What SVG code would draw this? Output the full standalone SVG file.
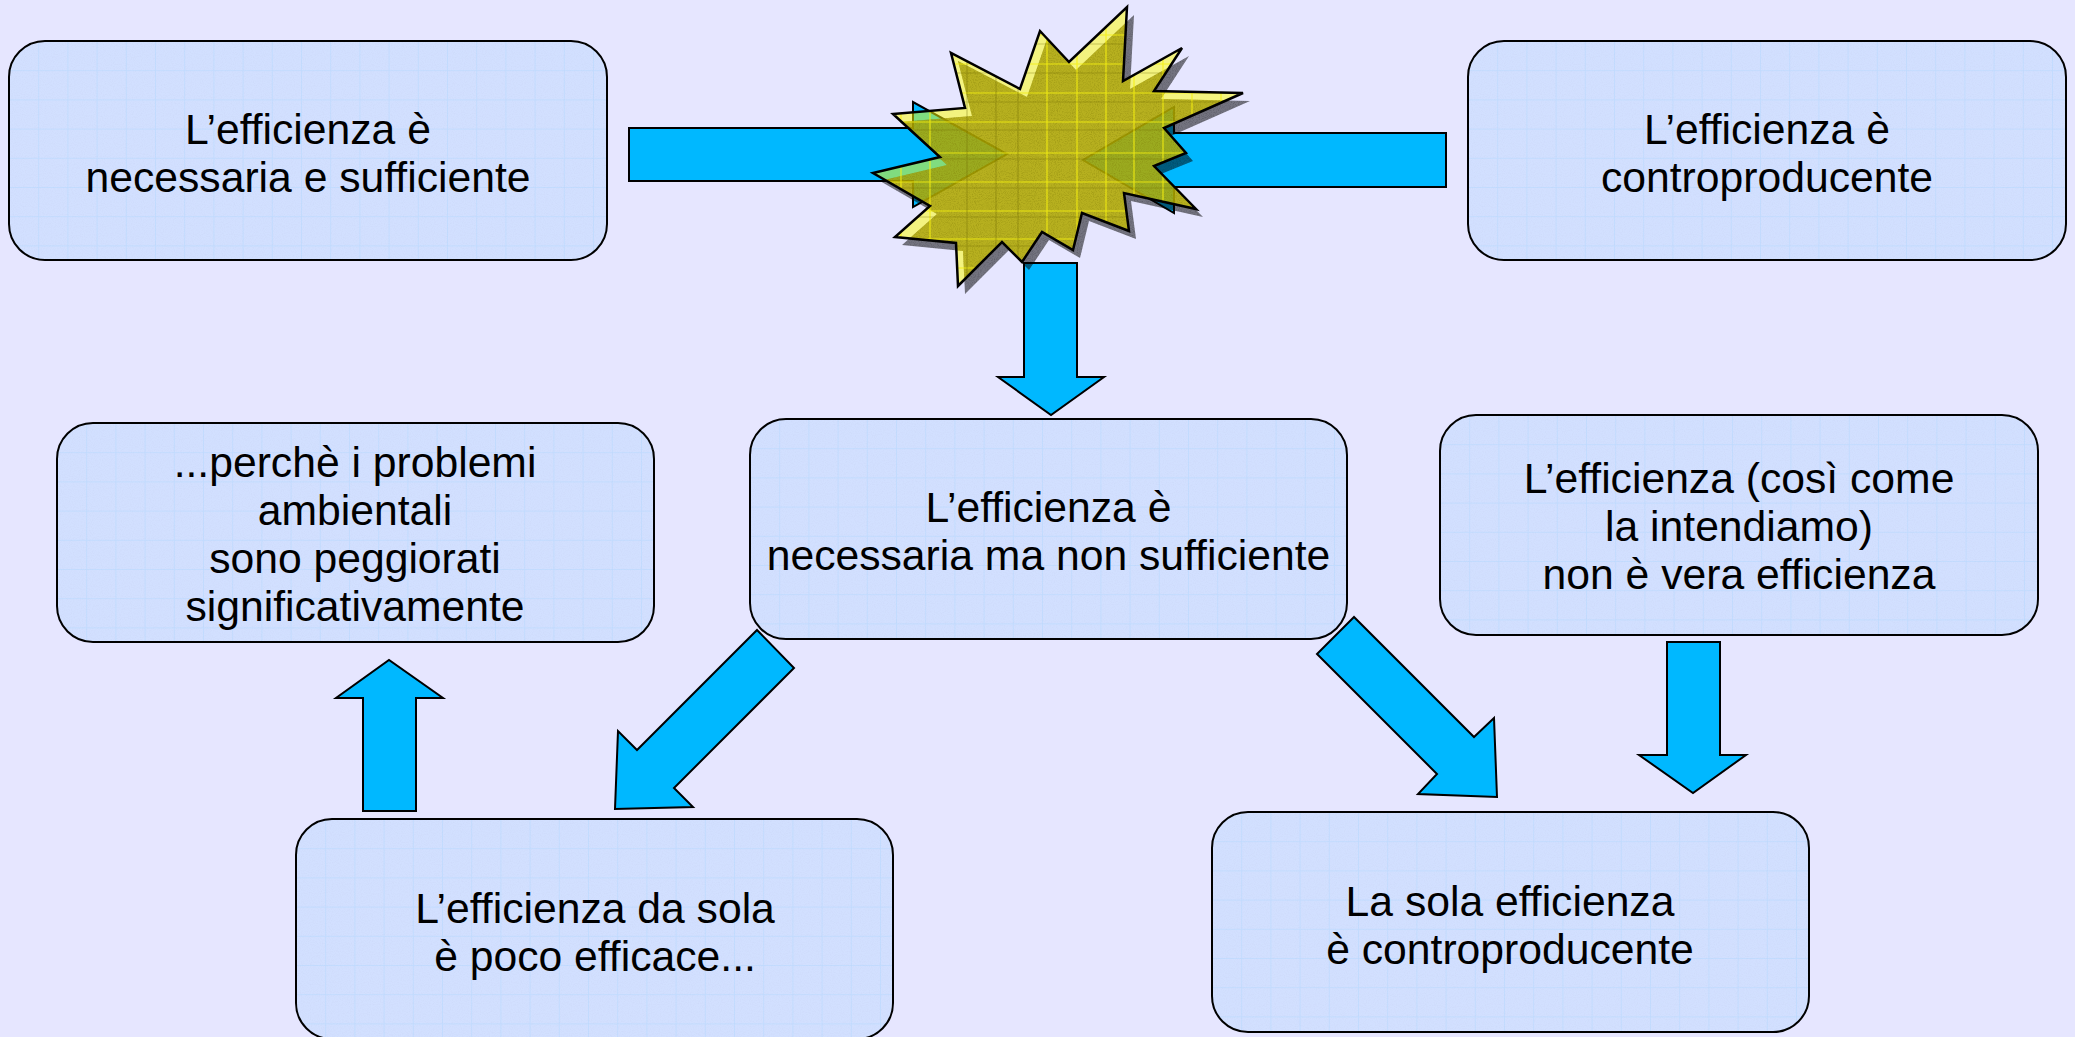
<svg xmlns="http://www.w3.org/2000/svg" width="2075" height="1037" viewBox="0 0 2075 1037">
<style>
.fill{fill:url(#boxgrid);filter:url(#finegrain)}
.line{fill:none;stroke:#000;stroke-width:2}
.arrow{fill:#00b8ff;stroke:#000;stroke-width:2;stroke-linejoin:miter}
text{font-family:"Liberation Sans",Arial,sans-serif;font-size:42.67px;fill:#000;text-anchor:middle}
</style>
<defs>
<pattern id="boxgrid" patternUnits="userSpaceOnUse" x="0" y="0" width="29.2" height="29.2">
<rect width="29.2" height="29.2" fill="#d2e0ff"/>
<path d="M0 0H29.2M0 0V29.2" stroke="#bfdbff" stroke-width="1.5" fill="none"/>
</pattern>
<filter id="finegrain" x="0" y="0" width="100%" height="100%">
<feTurbulence type="fractalNoise" baseFrequency="0.9" numOctaves="2" seed="3" result="n"/>
<feColorMatrix in="n" type="matrix" values="0 0 0 0 0.5  0 0 0 0 0.55  0 0 0 0 0.8  0 0 0 0.4 -0.16" result="a"/>
<feComposite in="a" in2="SourceGraphic" operator="atop"/>
</filter>
<filter id="grain" x="0" y="0" width="100%" height="100%">
<feTurbulence type="fractalNoise" baseFrequency="0.95" numOctaves="2" seed="7" result="n"/>
<feColorMatrix in="n" type="matrix" values="0 0 0 0 0  0 0 0 0 0  0 0 0 0 0  0 0 0 0.8 -0.34" result="a"/>
<feComposite in="a" in2="SourceAlpha" operator="in" result="b"/>
<feMerge><feMergeNode in="SourceGraphic"/><feMergeNode in="b"/></feMerge>
</filter>
<path id="starshape" d="M1127 7L1123 81L1182 48L1154 91L1243 93L1164 128L1186 153L1154 166L1196 209L1124 193L1129 231L1082 213L1073 250L1042 232L1022 262L1002 242L958 286L956 243L895 237L930 206L873 173L940 157L893 114L965 108L951 53L1020 89L1040 31L1069 62Z"/>
<clipPath id="starclip"><use href="#starshape"/></clipPath>
</defs>
<rect width="2075" height="1037" fill="#e6e6ff"/>
<g id="connectors">
<path class="arrow" d="M629 128H913V102L1007 154L913 207V181H629Z"/>
<path class="arrow" d="M1446 133H1174V107L1083 160L1174 213V187H1446Z"/>
<path class="arrow" d="M1024 263H1077V377H1104L1051 415L998 377H1024Z"/>
<path class="arrow" d="M757 630L794 668L674 788L693 807L615 809L618 731L637 750Z"/>
<path class="arrow" d="M1354 617L1317 654L1437 774L1418 794L1497 797L1494 718L1474 737Z"/>
<path class="arrow" d="M363 811V698H336L389 660L443 698H416V811Z"/>
<path class="arrow" d="M1667 642H1720V755H1746L1693 793L1639 755H1667Z"/>
</g>
<g id="burst">
<use href="#starshape" transform="translate(7 8)" fill="#000" fill-opacity=".5" filter="url(#grain)"/>
<use href="#starshape" fill="#ffff00" fill-opacity=".5"/>
<g clip-path="url(#starclip)">
<use href="#starshape" transform="translate(7 8)" fill="#b5a800" fill-opacity=".5" filter="url(#grain)"/>
<path d="M901 0V300M930 0V300M1047 0V300M1077 0V300M1106 0V300M1134 0V300M1163 0V300M1192 0V300M1221 0V300M0 35H1300M0 64H1300M0 93H1300M0 122H1300M0 153H1300M0 182H1300M0 211H1300M0 239H1300M0 268H1300" stroke="#f4f010" stroke-width="1.2" stroke-opacity=".85" fill="none"/>
<path d="M967 0V300M996 0V300M1018 0V300M0 44H1300M0 73H1300M0 102H1300M0 130H1300M0 159H1300M0 188H1300M0 217H1300M0 246H1300" stroke="#6e6600" stroke-width="1.2" stroke-opacity=".35" fill="none"/>
</g>
<use href="#starshape" fill="none" stroke="#000" stroke-width="2.500"/>
</g>
<g id="n1"><g transform="translate(9 41)"><rect class="fill" width="598" height="219" rx="36"/><rect class="line" width="598" height="219" rx="36"/></g><text x="308" y="144">L’efficienza è</text><text x="308" y="192">necessaria e sufficiente</text></g>
<g id="n2"><g transform="translate(1468 41)"><rect class="fill" width="598" height="219" rx="36"/><rect class="line" width="598" height="219" rx="36"/></g><text x="1767" y="144">L’efficienza è</text><text x="1767" y="192">controproducente</text></g>
<g id="n3"><g transform="translate(57 423)"><rect class="fill" width="597" height="219" rx="36"/><rect class="line" width="597" height="219" rx="36"/></g><text x="355" y="477">...perchè i problemi</text><text x="355" y="525">ambientali</text><text x="355" y="573">sono peggiorati</text><text x="355" y="621">significativamente</text></g>
<g id="n4"><g transform="translate(750 419)"><rect class="fill" width="597" height="220" rx="36"/><rect class="line" width="597" height="220" rx="36"/></g><text x="1048.500" y="522">L’efficienza è</text><text x="1048.500" y="570">necessaria ma non sufficiente</text></g>
<g id="n5"><g transform="translate(1440 415)"><rect class="fill" width="598" height="220" rx="36"/><rect class="line" width="598" height="220" rx="36"/></g><text x="1739" y="493">L’efficienza (così come</text><text x="1739" y="541">la intendiamo)</text><text x="1739" y="589">non è vera efficienza</text></g>
<g id="n6"><g transform="translate(296 819)"><rect class="fill" width="597" height="220" rx="36"/><rect class="line" width="597" height="220" rx="36"/></g><text x="595" y="923">L’efficienza da sola</text><text x="595" y="971">è poco efficace...</text></g>
<g id="n7"><g transform="translate(1212 812)"><rect class="fill" width="597" height="220" rx="36"/><rect class="line" width="597" height="220" rx="36"/></g><text x="1510" y="916">La sola efficienza</text><text x="1510" y="964">è controproducente</text></g>
</svg>
